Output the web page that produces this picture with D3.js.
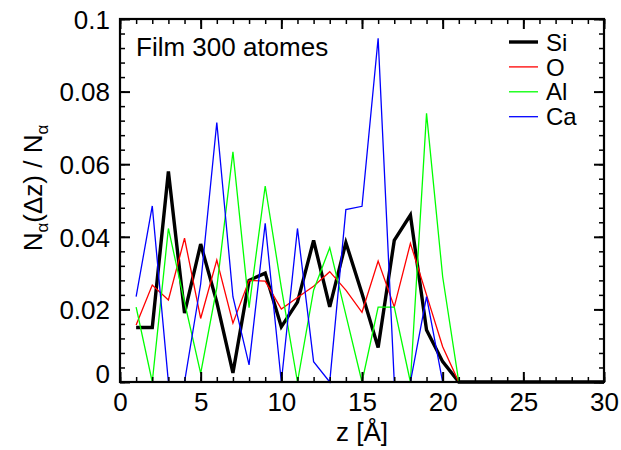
<!DOCTYPE html>
<html>
<head>
<meta charset="utf-8">
<script src="https://cdn.jsdelivr.net/npm/d3@7"></script>
<style>
  html, body { margin: 0; padding: 0; background: #fff; }
  text { font-family: "Liberation Sans", Arial, Helvetica, sans-serif; fill: #000; }
</style>
</head>
<body>
<svg id="chart" width="621" height="450"></svg>
<script>
// ---- data ----
const zValues = d3.range(1, 31);
const siValues = [0.015, 0.015, 0.058, 0.019, 0.038, 0.022, 0.0025, 0.028, 0.030, 0.0152,
                  0.022, 0.039, 0.0207, 0.0384, 0.0244, 0.0095, 0.039, 0.046, 0.0143, 0.0056,
                  0, 0, 0, 0, 0, 0, 0, 0, 0, 0];
const oValues = [0.0157, 0.0267, 0.0226, 0.0396, 0.0175, 0.0336, 0.0162, 0.028, 0.0278, 0.0201,
                 0.0233, 0.0264, 0.0304, 0.0253, 0.0192, 0.0333, 0.0207, 0.0382, 0.024, 0.0097,
                 0, 0, 0, 0, 0, 0, 0, 0, 0, 0];
const alValues = [0.0206, 0, 0.0423, 0.022, 0.0024, 0.026, 0.0634, 0.0205, 0.054, 0.026,
                  0, 0.0253, 0.037, 0.0185, 0, 0.0206, 0.0206, 0, 0.074, 0.029,
                  0, 0, 0, 0, 0, 0, 0, 0, 0, 0];
const caValues = [0.0235, 0.0485, 0, 0, 0.027, 0.0715, 0.0235, 0.0047, 0.0437, 0,
                  0.0423, 0.0056, 0, 0.0475, 0.0484, 0.0947, 0, 0, 0.0235, 0,
                  0, 0, 0, 0, 0, 0, 0, 0, 0, 0];
const seriesNames = ["Si", "O", "Al", "Ca"];
const xTicks = [0, 5, 10, 15, 20, 25, 30];
const yTicks = [0, 0.02, 0.04, 0.06, 0.08, 0.1];
const titleText = "Film 300 atomes";

// ---- layout ----
const svg = d3.select("#chart");
const L = 120, R = 604, T = 19, B = 382;
const FS = "26px";
const x = d3.scaleLinear().domain([0, 30]).range([L, R]);
const y = d3.scaleLinear().domain([0, 0.1]).range([B, T]);

const series = [
  { name: seriesNames[0], values: siValues, color: "#000000", width: 3.4 },
  { name: seriesNames[1], values: oValues,  color: "#ff0000", width: 1.3 },
  { name: seriesNames[2], values: alValues, color: "#00ff00", width: 1.3 },
  { name: seriesNames[3], values: caValues, color: "#0000ff", width: 1.3 }
];

const line = d3.line().x((d, i) => x(zValues[i])).y(d => y(d));

// lines
series.forEach(s => {
  svg.append("path")
    .datum(s.values)
    .attr("d", line)
    .attr("fill", "none")
    .attr("stroke", s.color)
    .attr("stroke-width", s.width)
    .attr("stroke-linejoin", "miter");
});

// axes helpers
const minorX = d3.range(0, 31, 1);
const minorY = d3.range(0, 26).map(i => +(i * 0.004).toFixed(3));
const fmt = d => d === 0 ? "0" : d3.format("~g")(d);

function styleAxis(g, width) {
  g.select(".domain").remove();
  g.selectAll("line").attr("stroke", "#000").attr("stroke-width", width);
  g.selectAll("text").style("font-size", FS)
    .style("font-family", '"Liberation Sans", Arial, sans-serif');
}

// bottom
let g = svg.append("g").attr("transform", `translate(0,${B})`)
  .call(d3.axisBottom(x).tickValues(minorX).tickSize(-5).tickFormat(""));
styleAxis(g, 1.5);
g = svg.append("g").attr("transform", `translate(0,${B})`)
  .call(d3.axisBottom(x).tickValues(xTicks).tickSize(-10).tickPadding(11).tickFormat(fmt));
styleAxis(g, 2);
// top
g = svg.append("g").attr("transform", `translate(0,${T})`)
  .call(d3.axisTop(x).tickValues(minorX).tickSize(-5).tickFormat(""));
styleAxis(g, 1.5);
g = svg.append("g").attr("transform", `translate(0,${T})`)
  .call(d3.axisTop(x).tickValues(xTicks).tickSize(-10).tickFormat(""));
styleAxis(g, 2);
// left
g = svg.append("g").attr("transform", `translate(${L},0)`)
  .call(d3.axisLeft(y).tickValues(minorY).tickSize(-5).tickFormat(""));
styleAxis(g, 1.5);
g = svg.append("g").attr("transform", `translate(${L},0)`)
  .call(d3.axisLeft(y).tickValues(yTicks).tickSize(-10).tickPadding(10).tickFormat(fmt));
styleAxis(g, 2);
g.selectAll("text").attr("dy", d => d === 0 ? "0em" : "0.36em");
// right
g = svg.append("g").attr("transform", `translate(${R},0)`)
  .call(d3.axisRight(y).tickValues(minorY).tickSize(-5).tickFormat(""));
styleAxis(g, 1.5);
g = svg.append("g").attr("transform", `translate(${R},0)`)
  .call(d3.axisRight(y).tickValues(yTicks).tickSize(-10).tickFormat(""));
styleAxis(g, 2);

// frame
svg.append("rect")
  .attr("x", L).attr("y", T).attr("width", R - L).attr("height", B - T)
  .attr("fill", "none").attr("stroke", "#000").attr("stroke-width", 2.2);

// x label
svg.append("text")
  .attr("x", (L + R) / 2).attr("y", 441)
  .attr("text-anchor", "middle")
  .style("font-size", FS)
  .text("z [Å]");

// y label
const yl = svg.append("text")
  .attr("transform", "translate(42,188) rotate(-90)")
  .attr("text-anchor", "middle")
  .style("font-size", FS);
yl.append("tspan").text("N");
yl.append("tspan").attr("dy", 6).style("font-size", "17px").text("α");
yl.append("tspan").attr("dy", -6).text("(Δz) / N");
yl.append("tspan").attr("dy", 6).style("font-size", "17px").text("α");

// title
svg.append("text")
  .attr("x", 136).attr("y", 56)
  .style("font-size", FS)
  .text(titleText);

// legend
series.forEach((s, i) => {
  const ly = 42 + i * 24.9;
  svg.append("line")
    .attr("x1", 509).attr("x2", 538).attr("y1", ly).attr("y2", ly)
    .attr("stroke", s.color).attr("stroke-width", s.width);
  svg.append("text")
    .attr("x", 546).attr("y", ly).attr("dy", "0.36em")
    .style("font-size", "24px")
    .text(s.name);
});
</script>
</body>
</html>
